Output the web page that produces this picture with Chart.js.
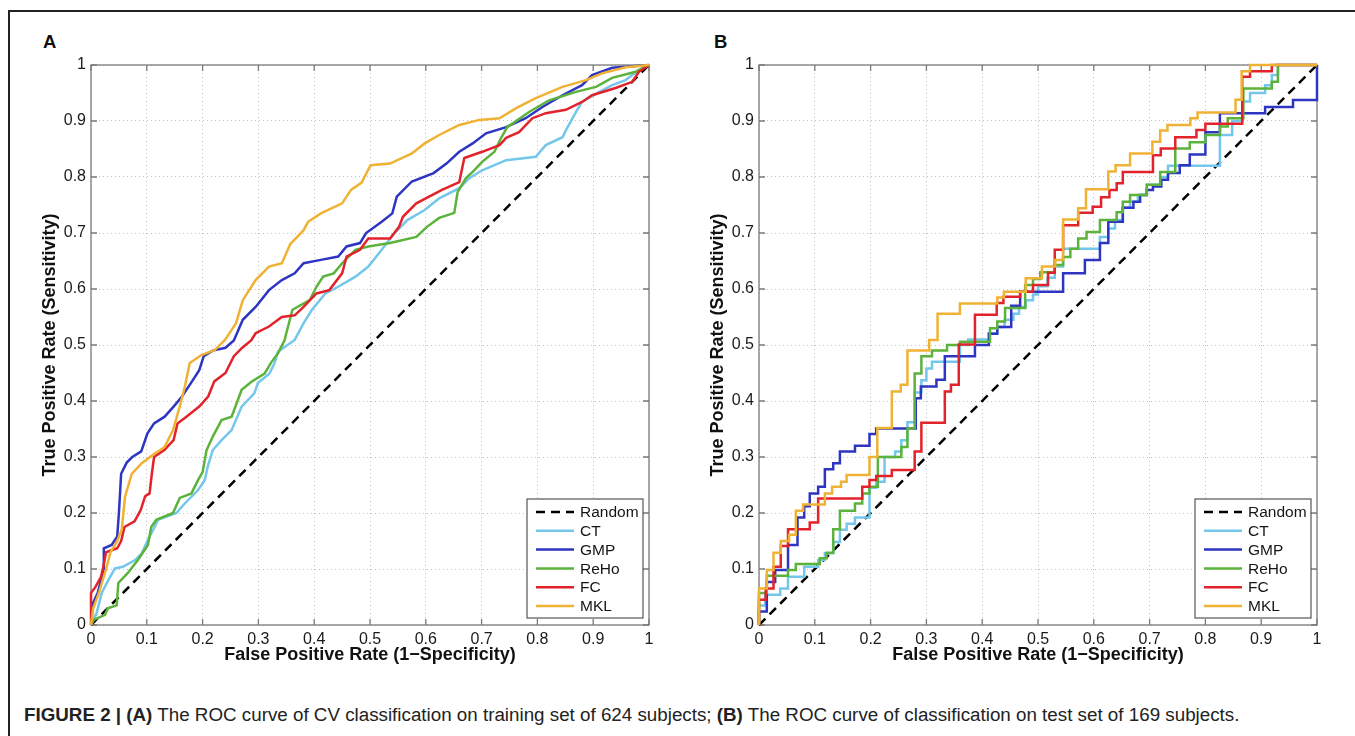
<!DOCTYPE html>
<html>
<head>
<meta charset="utf-8">
<script src="https://cdn.jsdelivr.net/npm/chart.js@4.4.1/dist/chart.umd.min.js"></script>
<style>
  body { margin: 0; width: 1355px; height: 736px; overflow: hidden; position: relative; background: #fff;
         font-family: "Liberation Sans", Arial, sans-serif; }
  #frame { position: absolute; left: 8px; top: 10px; width: 1400px; height: 800px; border: 2px solid #222; }
  .tag { position: absolute; top: 31px; font-size: 18.5px; font-weight: bold; color: #111; }
  canvas { position: absolute; top: 50px; }
  #caption { position: absolute; left: 24px; top: 704px; font-size: 18.8px; color: #222; white-space: nowrap; }
</style>
</head>
<body>
<div id="frame"></div>
<div class="tag" style="left:43px">A</div>
<div class="tag" style="left:714px">B</div>
<canvas id="chartA" width="650" height="630" style="left:20px"></canvas>
<canvas id="chartB" width="650" height="630" style="left:688px"></canvas>
<div id="caption"><b>FIGURE 2 | (A)</b> The ROC curve of CV classification on training set of 624 subjects; <b>(B)</b> The ROC curve of classification on test set of 169 subjects.</div>

<script>
// noms et couleurs des courbes (ordre de la légende)
const seriesNames = ["Random", "CT", "GMP", "ReHo", "FC", "MKL"];
const seriesColors = ["#000000", "#74c7ea", "#2d35c2", "#5cb33b", "#e3232b", "#efb234"];
const tickLabels = ["0", "0.1", "0.2", "0.3", "0.4", "0.5", "0.6", "0.7", "0.8", "0.9", "1"];

const randomLine = [[0, 0], [1, 1]];

// A : validation croisée, 624 sujets — sommets [FPR, TPR]
const trainCT = [[0,0],[0.01,0.021],[0.019,0.057],[0.031,0.08],[0.043,0.101],[0.057,0.104],[0.079,0.116],[0.091,0.128],[0.102,0.152],[0.114,0.175],[0.12,0.188],[0.153,0.2],[0.168,0.217],[0.192,0.241],[0.204,0.259],[0.209,0.282],[0.218,0.312],[0.234,0.33],[0.252,0.348],[0.27,0.39],[0.293,0.414],[0.299,0.432],[0.32,0.449],[0.329,0.468],[0.335,0.488],[0.365,0.509],[0.381,0.539],[0.396,0.563],[0.42,0.592],[0.443,0.604],[0.474,0.622],[0.497,0.64],[0.521,0.67],[0.544,0.7],[0.567,0.723],[0.598,0.741],[0.624,0.762],[0.66,0.78],[0.678,0.798],[0.701,0.812],[0.744,0.83],[0.797,0.836],[0.815,0.857],[0.845,0.871],[0.853,0.887],[0.869,0.916],[0.88,0.934],[0.911,0.952],[0.934,0.964],[0.958,0.973],[0.982,0.991],[1,1]];
const trainGMP = [[0,0],[0.004,0.04],[0.012,0.057],[0.023,0.1],[0.023,0.137],[0.037,0.143],[0.047,0.158],[0.05,0.2],[0.054,0.27],[0.064,0.29],[0.074,0.3],[0.09,0.31],[0.101,0.342],[0.113,0.36],[0.132,0.372],[0.148,0.39],[0.163,0.408],[0.179,0.432],[0.194,0.455],[0.202,0.48],[0.218,0.49],[0.241,0.495],[0.256,0.508],[0.272,0.545],[0.295,0.568],[0.319,0.598],[0.342,0.616],[0.365,0.628],[0.381,0.646],[0.412,0.652],[0.443,0.658],[0.458,0.676],[0.482,0.682],[0.493,0.7],[0.521,0.72],[0.54,0.735],[0.548,0.765],[0.575,0.792],[0.614,0.807],[0.637,0.824],[0.66,0.845],[0.684,0.86],[0.708,0.878],[0.744,0.889],[0.779,0.905],[0.809,0.925],[0.845,0.946],[0.88,0.964],[0.898,0.982],[0.934,0.995],[1,1]];
const trainReHo = [[0,0],[0.005,0.009],[0.025,0.018],[0.03,0.03],[0.046,0.035],[0.049,0.075],[0.066,0.093],[0.084,0.116],[0.102,0.143],[0.108,0.175],[0.117,0.188],[0.147,0.2],[0.159,0.227],[0.18,0.235],[0.192,0.259],[0.2,0.273],[0.207,0.312],[0.218,0.336],[0.234,0.366],[0.252,0.372],[0.27,0.42],[0.287,0.434],[0.311,0.449],[0.323,0.469],[0.335,0.485],[0.347,0.509],[0.35,0.521],[0.361,0.563],[0.392,0.58],[0.404,0.604],[0.416,0.622],[0.435,0.628],[0.45,0.646],[0.474,0.67],[0.497,0.676],[0.536,0.682],[0.583,0.693],[0.602,0.711],[0.624,0.727],[0.651,0.736],[0.657,0.773],[0.672,0.798],[0.684,0.809],[0.701,0.827],[0.723,0.845],[0.735,0.87],[0.746,0.889],[0.785,0.916],[0.821,0.937],[0.869,0.952],[0.905,0.961],[0.934,0.977],[0.976,0.988],[1,1]];
const trainFC = [[0,0],[0,0.057],[0.008,0.068],[0.018,0.086],[0.022,0.104],[0.027,0.13],[0.047,0.137],[0.054,0.15],[0.06,0.175],[0.078,0.185],[0.089,0.205],[0.097,0.23],[0.105,0.235],[0.109,0.27],[0.113,0.3],[0.132,0.313],[0.148,0.33],[0.155,0.36],[0.171,0.372],[0.194,0.39],[0.21,0.408],[0.221,0.435],[0.241,0.45],[0.256,0.48],[0.272,0.496],[0.287,0.508],[0.295,0.521],[0.319,0.533],[0.342,0.55],[0.365,0.553],[0.381,0.568],[0.404,0.592],[0.427,0.598],[0.45,0.628],[0.458,0.658],[0.482,0.67],[0.497,0.69],[0.536,0.69],[0.552,0.711],[0.559,0.729],[0.583,0.753],[0.606,0.765],[0.629,0.777],[0.66,0.791],[0.669,0.834],[0.701,0.845],[0.732,0.857],[0.744,0.87],[0.767,0.88],[0.791,0.905],[0.815,0.914],[0.851,0.92],[0.88,0.934],[0.898,0.946],[0.94,0.959],[0.97,0.97],[0.982,0.988],[1,1]];
const trainMKL = [[0,0],[0.004,0.03],[0.015,0.06],[0.027,0.1],[0.035,0.13],[0.047,0.15],[0.055,0.17],[0.061,0.229],[0.073,0.27],[0.091,0.289],[0.111,0.304],[0.132,0.318],[0.147,0.348],[0.159,0.39],[0.168,0.425],[0.177,0.468],[0.198,0.482],[0.222,0.491],[0.24,0.509],[0.26,0.539],[0.272,0.58],[0.295,0.616],[0.319,0.64],[0.342,0.646],[0.357,0.68],[0.381,0.705],[0.389,0.72],[0.412,0.735],[0.45,0.753],[0.466,0.777],[0.485,0.79],[0.501,0.821],[0.536,0.824],[0.575,0.842],[0.598,0.86],[0.624,0.875],[0.66,0.893],[0.696,0.902],[0.732,0.905],[0.762,0.923],[0.797,0.941],[0.845,0.961],[0.887,0.973],[0.916,0.985],[0.958,0.996],[1,1]];

// B : ensemble de test, 169 sujets — [FPR, TPR] à chaque marche montante
const testCT = [[0,0],[0,0.035],[0.011,0.054],[0.038,0.065],[0.052,0.086],[0.081,0.104],[0.106,0.116],[0.118,0.128],[0.133,0.148],[0.145,0.17],[0.157,0.181],[0.172,0.192],[0.198,0.245],[0.21,0.256],[0.225,0.3],[0.244,0.31],[0.255,0.33],[0.266,0.362],[0.279,0.415],[0.291,0.437],[0.3,0.458],[0.31,0.47],[0.36,0.5],[0.375,0.51],[0.412,0.521],[0.427,0.532],[0.44,0.545],[0.456,0.556],[0.466,0.568],[0.478,0.58],[0.491,0.59],[0.5,0.605],[0.517,0.62],[0.53,0.64],[0.545,0.672],[0.611,0.693],[0.626,0.708],[0.638,0.723],[0.652,0.745],[0.665,0.756],[0.679,0.768],[0.695,0.786],[0.719,0.8],[0.733,0.82],[0.826,0.875],[0.848,0.9],[0.866,0.935],[0.88,0.95],[0.907,0.964],[0.919,0.982],[0.93,1],[1,1]];
const testGMP = [[0,0],[0,0.024],[0.014,0.077],[0.029,0.098],[0.052,0.143],[0.069,0.192],[0.081,0.212],[0.091,0.235],[0.106,0.247],[0.118,0.278],[0.133,0.289],[0.145,0.31],[0.172,0.32],[0.198,0.341],[0.21,0.351],[0.281,0.405],[0.29,0.426],[0.318,0.438],[0.333,0.48],[0.387,0.5],[0.412,0.52],[0.427,0.532],[0.452,0.57],[0.468,0.595],[0.545,0.628],[0.584,0.652],[0.611,0.682],[0.626,0.72],[0.652,0.745],[0.671,0.756],[0.683,0.768],[0.695,0.777],[0.706,0.783],[0.721,0.795],[0.733,0.807],[0.754,0.821],[0.772,0.84],[0.8,0.88],[0.826,0.914],[0.907,0.925],[0.957,0.9375],[1,1]];
const testReHo = [[0,0],[0,0.057],[0.014,0.088],[0.052,0.098],[0.066,0.109],[0.109,0.119],[0.121,0.129],[0.133,0.171],[0.145,0.204],[0.172,0.217],[0.185,0.235],[0.198,0.247],[0.213,0.3],[0.255,0.318],[0.266,0.351],[0.279,0.449],[0.291,0.48],[0.31,0.49],[0.337,0.5],[0.36,0.506],[0.414,0.53],[0.427,0.542],[0.441,0.566],[0.477,0.607],[0.491,0.618],[0.504,0.63],[0.53,0.643],[0.545,0.657],[0.558,0.672],[0.572,0.69],[0.587,0.702],[0.611,0.723],[0.641,0.737],[0.652,0.756],[0.665,0.768],[0.695,0.786],[0.719,0.809],[0.746,0.851],[0.772,0.862],[0.8,0.875],[0.826,0.89],[0.84,0.905],[0.868,0.958],[0.919,0.97],[0.93,1],[1,1]];
const testFC = [[0,0],[0,0.045],[0.012,0.065],[0.026,0.104],[0.039,0.141],[0.052,0.171],[0.091,0.183],[0.106,0.226],[0.185,0.247],[0.198,0.259],[0.21,0.266],[0.238,0.277],[0.279,0.31],[0.291,0.361],[0.333,0.417],[0.344,0.429],[0.358,0.501],[0.387,0.554],[0.426,0.575],[0.438,0.586],[0.468,0.595],[0.491,0.607],[0.518,0.629],[0.53,0.67],[0.545,0.714],[0.572,0.736],[0.598,0.747],[0.613,0.764],[0.628,0.777],[0.641,0.789],[0.652,0.809],[0.706,0.839],[0.72,0.851],[0.746,0.871],[0.784,0.884],[0.8,0.895],[0.866,0.979],[0.88,0.989],[0.919,1],[1,1]];
const testMKL = [[0,0],[0,0.065],[0.014,0.098],[0.026,0.129],[0.039,0.15],[0.054,0.161],[0.066,0.204],[0.079,0.215],[0.118,0.235],[0.131,0.247],[0.147,0.256],[0.157,0.268],[0.198,0.3],[0.212,0.352],[0.238,0.417],[0.254,0.429],[0.266,0.49],[0.305,0.509],[0.32,0.556],[0.36,0.574],[0.427,0.585],[0.439,0.595],[0.478,0.619],[0.507,0.64],[0.531,0.652],[0.545,0.724],[0.572,0.744],[0.586,0.778],[0.626,0.81],[0.639,0.821],[0.665,0.842],[0.705,0.863],[0.719,0.883],[0.732,0.893],[0.773,0.905],[0.786,0.915],[0.854,0.938],[0.865,0.989],[0.88,1],[1,1]];

Chart.defaults.font.family = '"Liberation Sans", Arial, sans-serif';
Chart.defaults.color = '#1a1a1a';

// cadre style MATLAB : boîte grise + petites graduations vers l'intérieur
const boxAxes = {
  id: 'boxAxes',
  beforeDatasetsDraw(chart) {
    const { ctx, chartArea: a, scales: { x, y } } = chart;
    ctx.save();
    ctx.strokeStyle = '#7a7a7a';
    ctx.lineWidth = 1.3;
    ctx.strokeRect(a.left, a.top, a.right - a.left, a.bottom - a.top);
    ctx.beginPath();
    x.ticks.forEach(t => {
      const px = x.getPixelForValue(t.value);
      ctx.moveTo(px, a.bottom); ctx.lineTo(px, a.bottom - 6);
      ctx.moveTo(px, a.top); ctx.lineTo(px, a.top + 6);
    });
    y.ticks.forEach(t => {
      const py = y.getPixelForValue(t.value);
      ctx.moveTo(a.left, py); ctx.lineTo(a.left + 6, py);
      ctx.moveTo(a.right, py); ctx.lineTo(a.right - 6, py);
    });
    ctx.stroke();
    ctx.restore();
  }
};

// légende encadrée en bas à droite, dans la zone du graphique
const boxLegend = {
  id: 'boxLegend',
  afterDatasetsDraw(chart) {
    const { ctx, chartArea: a } = chart;
    const w = 116, h = 119, row = 18.8;
    const left = a.right - 6 - w, top = a.bottom - 7 - h;
    ctx.save();
    ctx.fillStyle = '#fff';
    ctx.fillRect(left, top, w, h);
    ctx.strokeStyle = '#555';
    ctx.lineWidth = 1.2;
    ctx.strokeRect(left, top, w, h);
    ctx.font = '15.5px "Liberation Sans", Arial, sans-serif';
    ctx.textBaseline = 'middle';
    chart.data.datasets.forEach((ds, i) => {
      const cy = top + 13 + i * row;
      ctx.strokeStyle = ds.borderColor;
      ctx.lineWidth = 2.5;
      ctx.setLineDash(ds.borderDash || []);
      ctx.beginPath();
      ctx.moveTo(left + 9, cy);
      ctx.lineTo(left + 47, cy);
      ctx.stroke();
      ctx.setLineDash([]);
      ctx.fillStyle = '#151515';
      ctx.fillText(ds.label, left + 53, cy + 1);
    });
    ctx.restore();
  }
};

function axisOptions(titulo, afterFit) {
  return {
    type: 'linear', min: 0, max: 1,
    ticks: { stepSize: 0.1, padding: 5, font: { size: 16 }, color: '#1a1a1a',
             callback: v => tickLabels[Math.round(v * 10)], maxRotation: 0, autoSkip: false },
    grid: { color: '#c2c2c2', lineWidth: 1, drawTicks: false },
    border: { display: false, dash: [1, 3] },
    title: { display: true, text: titulo, font: { size: 18, weight: 'bold' }, color: '#111' },
    afterFit: afterFit
  };
}

function desenharROC(canvasId, curvas, degraus) {
  const datasets = curvas.map((pts, i) => ({
    label: seriesNames[i],
    data: pts.map(p => ({ x: p[0], y: p[1] })),
    borderColor: seriesColors[i],
    borderWidth: 2.5,
    borderDash: i === 0 ? [9, 6] : [],
    stepped: (i > 0 && degraus) ? 'before' : false,
    pointRadius: 0,
    tension: 0,
    fill: false,
    clip: false,
    order: seriesNames.length - i // MKL por cima
  }));

  const xAxis = axisOptions('False Positive Rate (1\u2212Specificity)', s => { s.height = 55; });
  xAxis.title.padding = { top: 0, bottom: 14 };
  const yAxis = axisOptions('True Positive Rate (Sensitivity)', s => { s.width = 71; });
  yAxis.title.padding = { top: 19, bottom: 0 };

  return new Chart(document.getElementById(canvasId), {
    type: 'line',
    data: { datasets: datasets },
    options: {
      responsive: false,
      animation: false,
      events: [],
      layout: { padding: { top: 15, right: 21, bottom: 0, left: 0 } },
      scales: { x: xAxis, y: yAxis },
      plugins: { legend: { display: false }, tooltip: { enabled: false } }
    },
    plugins: [boxAxes, boxLegend]
  });
}

desenharROC('chartA', [randomLine, trainCT, trainGMP, trainReHo, trainFC, trainMKL], false);
desenharROC('chartB', [randomLine, testCT, testGMP, testReHo, testFC, testMKL], true);
</script>
</body>
</html>
